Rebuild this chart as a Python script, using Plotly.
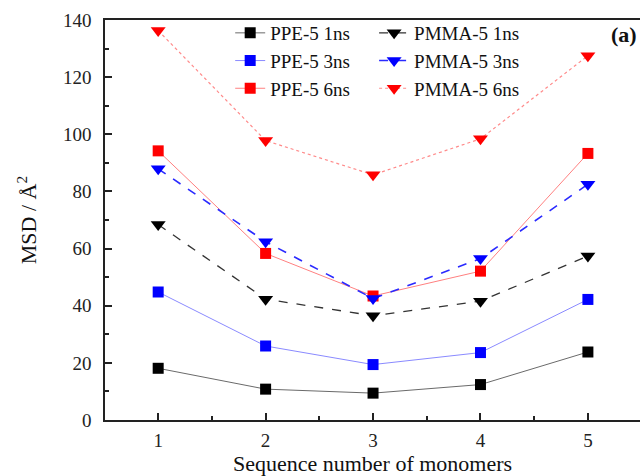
import plotly.graph_objects as go

# Sequence position of each monomer along the chain
monomers = [1, 2, 3, 4, 5]

# Mean square displacement (Å^2) per monomer
ppe_1ns = [18.1, 10.8, 9.4, 12.4, 23.8]
ppe_3ns = [44.8, 25.9, 19.4, 23.6, 42.2]
ppe_6ns = [94.2, 58.3, 43.4, 52.1, 93.3]
pmma_1ns = [68.4, 42.3, 36.5, 41.6, 57.4]
pmma_3ns = [87.9, 62.4, 42.5, 56.5, 82.5]
pmma_6ns = [136.3, 97.8, 85.8, 98.4, 127.5]

y_ticks = [0, 20, 40, 60, 80, 100, 120, 140]

FONT = "Liberation Serif, Times New Roman, serif"

series = [
    # name, values, marker color, line color, dash, line width, symbol, legend
    ("PPE-5 1ns", ppe_1ns, "#000000", "#6a6a6a", "solid", 1.0, "square", "legend"),
    ("PPE-5 3ns", ppe_3ns, "#0000ff", "#8a8aff", "solid", 1.0, "square", "legend"),
    ("PPE-5 6ns", ppe_6ns, "#ff0000", "#ff8080", "solid", 1.0, "square", "legend"),
    ("PMMA-5 1ns", pmma_1ns, "#000000", "#333333", "dash", 1.3, "triangle-down", "legend2"),
    ("PMMA-5 3ns", pmma_3ns, "#0000ff", "#2a2aff", "dash", 1.6, "triangle-down", "legend2"),
    ("PMMA-5 6ns", pmma_6ns, "#ff0000", "#ff8a8a", "dot", 1.2, "triangle-down", "legend2"),
]

fig = go.Figure()
for name, vals, mcol, lcol, dash, lw, sym, leg in series:
    fig.add_trace(go.Scatter(
        x=monomers, y=vals, name=name, mode="lines+markers",
        line=dict(color=lcol, dash=dash, width=lw),
        marker=dict(symbol=sym, color=mcol, size=11 if sym == "square" else 13,
                    line=dict(width=0)),
        legend=leg,
    ))

legend_style = dict(
    font=dict(family=FONT, size=19, color="#111111"),
    bgcolor="rgba(0,0,0,0)", borderwidth=0,
    traceorder="normal",
    xanchor="left", yanchor="top", orientation="v",
    itemwidth=30,
)

fig.update_layout(
    width=640, height=476,
    margin=dict(l=105, r=0, t=20, b=56),
    paper_bgcolor="white", plot_bgcolor="white",
    font=dict(family=FONT, color="#111111"),
    showlegend=True,
    legend=dict(x=0.234, y=1.015, **legend_style),
    legend2=dict(x=0.503, y=1.015, **legend_style),
    xaxis=dict(
        range=[0.505, 5.485],
        tickmode="array", tickvals=monomers, ticktext=[str(m) for m in monomers],
        ticks="inside", ticklen=7, tickwidth=1.5, tickcolor="#222222",
        minor=dict(dtick=0.5, tick0=0.5, ticks="inside", ticklen=4,
                   tickwidth=1.5, tickcolor="#222222"),
        showline=True, linecolor="#222222", linewidth=1.5, mirror=True,
        showgrid=False, zeroline=False,
        tickfont=dict(family=FONT, size=19, color="#222222"),
        ticklabelstandoff=2,
        title=dict(text="Sequence number of monomers",
                   font=dict(family=FONT, size=22, color="#111111"),
                   standoff=4),
    ),
    yaxis=dict(
        range=[0, 140],
        tickmode="array", tickvals=y_ticks, ticktext=[str(v) for v in y_ticks],
        ticks="inside", ticklen=7, tickwidth=1.5, tickcolor="#222222",
        minor=dict(dtick=10, ticks="inside", ticklen=4,
                   tickwidth=1.5, tickcolor="#222222"),
        showline=True, linecolor="#222222", linewidth=1.5, mirror=False,
        showgrid=False, zeroline=False,
        tickfont=dict(family=FONT, size=19, color="#222222"),
        ticklabelstandoff=8,
        title=dict(text="MSD / Å<sup>2</sup>",
                   font=dict(family=FONT, size=22, color="#111111"),
                   standoff=20),
    ),
    annotations=[dict(
        text="<b>(a)</b>", xref="paper", yref="paper",
        x=0.998, y=0.9637, xanchor="right", yanchor="middle",
        showarrow=False, font=dict(family=FONT, size=22, color="#111111"),
    )],
)

fig.write_html("out.html")
